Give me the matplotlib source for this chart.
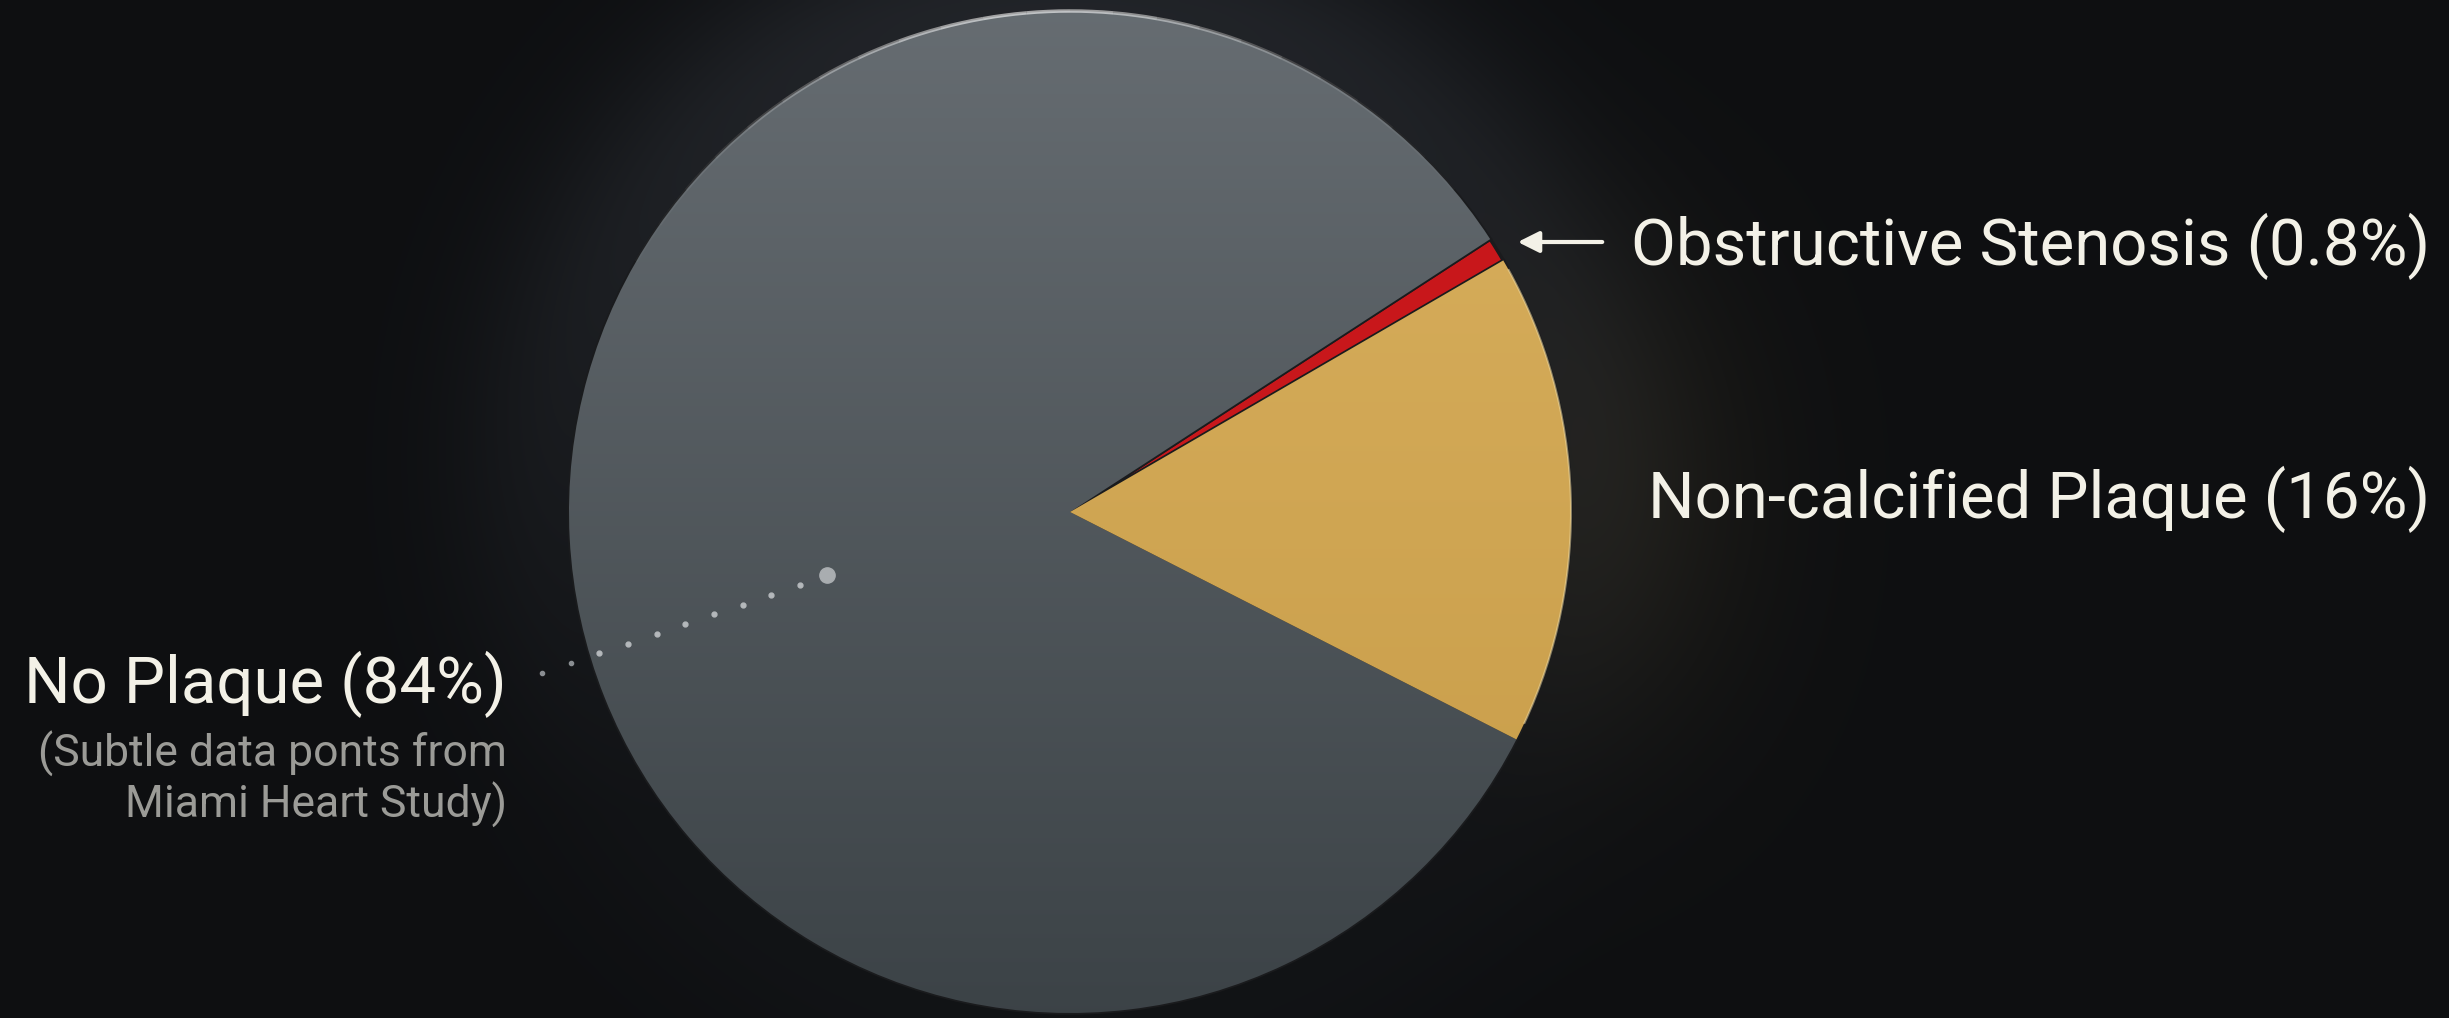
import numpy as np
import matplotlib.pyplot as plt
from matplotlib.patches import Arc

plt.rcParams['font.family'] = ['Liberation Sans Narrow', 'Roboto', 'DejaVu Sans']

# slices, counter-clockwise from the lower edge of the yellow wedge
labels = ['Non-calcified Plaque (16%)', 'Obstructive Stenosis (0.8%)', 'No Plaque (84%)']
values = [16, 0.8, 84]
colors = ['#d2a954', '#c8171b', '#555c61']
note_lines = ['(Subtle data ponts from', 'Miami Heart Study)']

W, H = 2449, 1018
cx, cy, R = 1070, 506, 501

fig = plt.figure(figsize=(W / 100, H / 100), dpi=100)
ax = fig.add_axes([0, 0, 1, 1])

# background with soft glow round the pie
gx, gy = np.meshgrid(np.linspace(0, W, 612), np.linspace(0, H, 255))
r = np.hypot(gx - cx, gy - cy)
bg = np.zeros(gx.shape + (3,))
bg[:] = (0.055, 0.06, 0.068)
halo = np.exp(-((r - R) / 120.0) ** 2) * (r > R - 20) * (0.5 + 0.5 * (gy - cy) / R).clip(0.2, 1)
bg += halo[..., None] * np.array([0.075, 0.08, 0.09])
warm = np.exp(-(((gx - 1620) / 170.0) ** 2 + ((gy - 520) / 260.0) ** 2))
bg += warm[..., None] * np.array([0.045, 0.035, 0.012])
ax.imshow(bg.clip(0, 1), extent=(0, W, 0, H), origin='lower', zorder=0,
          interpolation='bilinear', aspect='auto')

wedges, _ = ax.pie(values, colors=colors, startangle=-27, center=(cx, cy), radius=R,
                   frame=True, wedgeprops=dict(edgecolor='#1a1b1d', linewidth=2.5))
for w in wedges:
    w.set_zorder(2)

# vertical shading of the grey and yellow slices
t = np.linspace(0, 1, 256)[:, None]
grey = (np.array([0.235, 0.262, 0.278]) * (1 - t) + np.array([0.40, 0.425, 0.445]) * t)[:, None, :]
grey = np.repeat(grey, 2, axis=1)
im = ax.imshow(grey, extent=(cx - R, cx + R, cy - R, cy + R), origin='lower', zorder=3,
               interpolation='bilinear', aspect='auto')
im.set_clip_path(wedges[2])
gold = (np.array([0.78, 0.61, 0.28]) * (1 - t) + np.array([0.85, 0.69, 0.37]) * t)[:, None, :]
gold = np.repeat(gold, 2, axis=1)
im2 = ax.imshow(gold, extent=(cx - R, cx + R, cy - R, cy + R), origin='lower', zorder=3,
                interpolation='bilinear', aspect='auto')
im2.set_clip_path(wedges[0])

# light rim on the top of the pie
for a in range(40, 150, 5):
    alpha = 0.6 * np.exp(-((a + 2.5 - 95) / 30.0) ** 2)
    ax.add_patch(Arc((cx, cy), 2 * R, 2 * R, theta1=a, theta2=a + 5,
                     color='white', alpha=alpha, lw=2.5, zorder=4))
ax.add_patch(Arc((cx, cy), 2 * R, 2 * R, theta1=-25, theta2=29,
                 color='#f3dfa8', alpha=0.5, lw=1.5, zorder=4))

# dotted leader for the big slice
lx = np.linspace(542, 800, 10)
ly = np.linspace(H - 673, H - 585, 10)
ax.plot(lx[:2], ly[:2], 'o', ms=3, color='#8a8e92', zorder=5)
ax.plot(lx[2:], ly[2:], 'o', ms=3.5, color='#b4b8bb', zorder=5)
ax.plot([827], [H - 575], 'o', ms=11, color='#a9adb0', zorder=5)

txt = '#f3f1e7'
ax.annotate('', xy=(1515, H - 242), xytext=(1605, H - 242), zorder=5,
            arrowprops=dict(arrowstyle='-|>', color=txt, lw=3, mutation_scale=32))
ax.text(1631, H - 265, labels[1], ha='left', va='baseline', fontsize=47, color=txt)
ax.text(2430, H - 518, labels[0], ha='right', va='baseline', fontsize=47, color=txt)
ax.text(507, H - 703, labels[2], ha='right', va='baseline', fontsize=47, color=txt)
ax.text(507, H - 767, note_lines[0], ha='right', va='baseline', fontsize=32, color='#9b9b97')
ax.text(507, H - 818, note_lines[1], ha='right', va='baseline', fontsize=32, color='#9b9b97')

ax.set_xlim(0, W)
ax.set_ylim(0, H)
ax.axis('off')
fig.savefig('out.png', dpi=100, facecolor='#0f1113')
